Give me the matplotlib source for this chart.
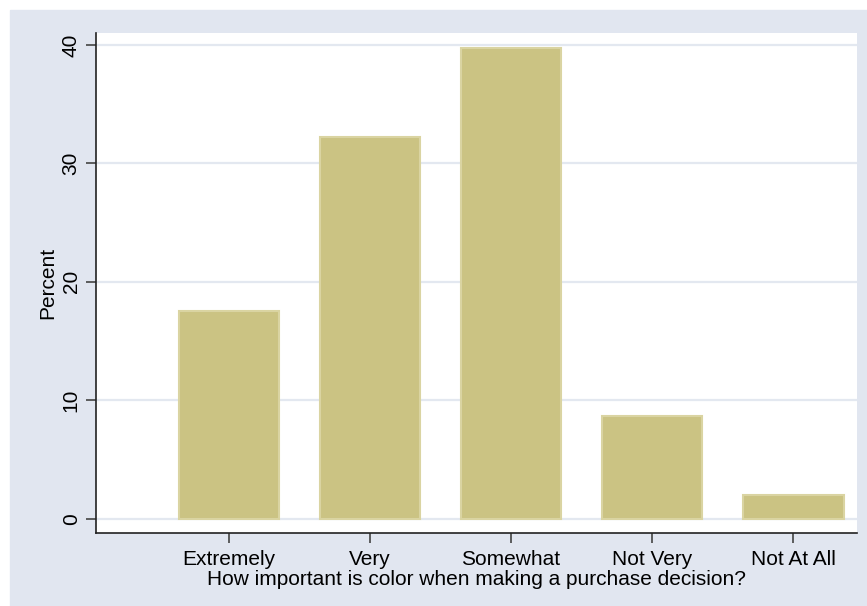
import matplotlib.pyplot as plt
from matplotlib.patches import Rectangle

# survey answers
categories = ["Extremely", "Very", "Somewhat", "Not Very", "Not At All"]
percent = [17.5, 32.2, 39.7, 8.7, 2.0]
yticks = [0, 10, 20, 30, 40]

plt.rcParams['font.family'] = ['Liberation Sans', 'DejaVu Sans']

W, H = 867, 606
fig = plt.figure(figsize=(W / 100, H / 100), dpi=100, facecolor="white")

# stata-like outer panel
fig.patches.append(Rectangle((10 / W, 0), 1 - 10 / W, 1 - 10 / H,
                             transform=fig.transFigure, color="#E1E6F0",
                             zorder=-1))

ax = fig.add_axes([96 / W, (H - 533) / H, (857 - 96) / W, (533 - 33) / H])
ax.set_facecolor("white")

x = list(range(len(categories)))
ax.bar(x, percent, width=0.71, color="#CBC383", edgecolor="#DAD4A2",
       linewidth=1.5, zorder=3)

ax.set_xlim(-0.94, 4.45)
ax.set_ylim(-1.2, 41.0)
ax.set_yticks(yticks)
ax.set_yticklabels([str(v) for v in yticks], rotation=90, va="center",
                   fontsize=15)
ax.set_xticks(x)
ax.set_xticklabels(categories, fontsize=15)

ax.grid(axis="y", color="#E3E8F0", linewidth=1.6, zorder=0)
ax.set_axisbelow(True)

for s in ["top", "right"]:
    ax.spines[s].set_visible(False)
for s in ["left", "bottom"]:
    ax.spines[s].set_color("#222222")
    ax.spines[s].set_linewidth(1.2)

ax.tick_params(axis="y", length=7, width=1.2, color="#444444", pad=4)
ax.tick_params(axis="x", length=7, width=1.2, color="#444444", pad=5)

ax.set_ylabel("Percent", fontsize=15, labelpad=3)
ax.set_xlabel("How important is color when making a purchase decision?",
              fontsize=15, labelpad=1)

fig.savefig("out.png", dpi=100, facecolor=fig.get_facecolor())
